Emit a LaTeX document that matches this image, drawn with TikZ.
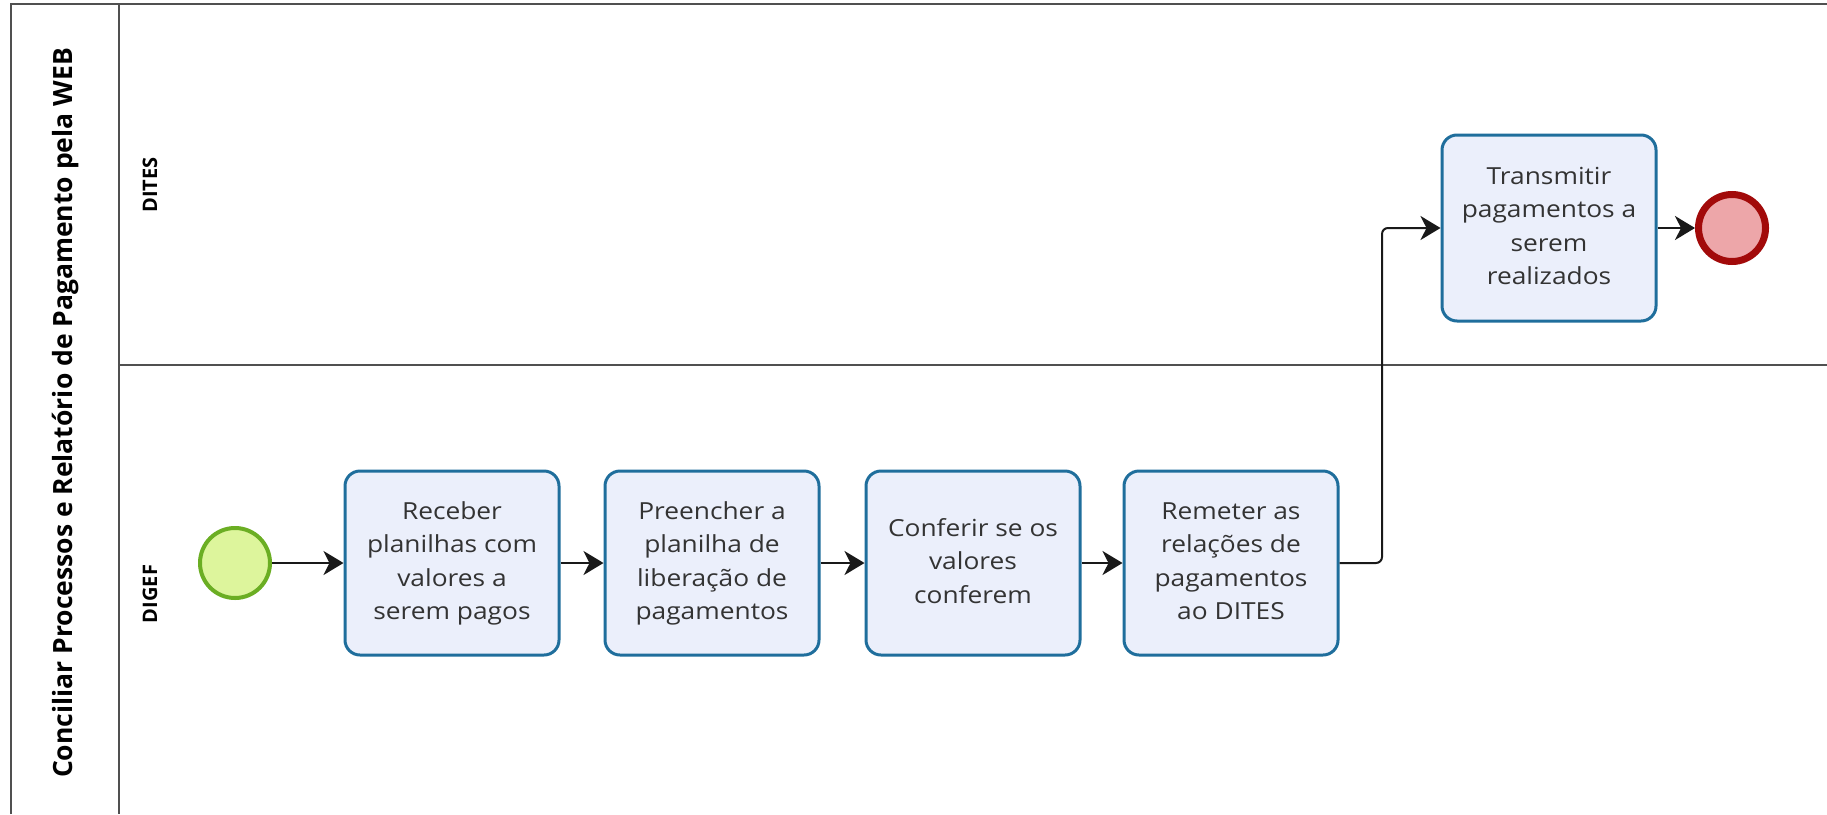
\documentclass[tikz,border=0pt]{standalone}
\usepackage{fontspec}
\usepackage{graphicx}
\setmainfont{Open Sans}
\usetikzlibrary{arrows.meta}
\definecolor{taskfill}{HTML}{EBEFFB}
\definecolor{taskdraw}{HTML}{1F6E9C}
\definecolor{startfill}{HTML}{DDF59C}
\definecolor{startdraw}{HTML}{6BAE23}
\definecolor{endfill}{HTML}{EDA6A9}
\definecolor{enddraw}{HTML}{A20A0A}
\definecolor{laneline}{HTML}{505050}
\newcommand\tasktext[1]{\scalebox{1.12}[1]{\begin{tabular}{@{}c@{}}#1\end{tabular}}}
\tikzset{
  task/.style={draw=taskdraw, fill=taskfill, line width=3pt, rounded corners=15pt,
    minimum width=214pt, minimum height=184pt, align=center, inner sep=0pt,
    font=\fontsize{23.5}{33.5}\selectfont, text=black!80},
  startev/.style={circle, draw=startdraw, fill=startfill, line width=4pt, minimum size=70pt, inner sep=0pt},
  endev/.style={circle, draw=enddraw, fill=endfill, line width=7pt, minimum size=67pt, inner sep=0pt},
  flow/.style={draw=black!90, line width=2pt, -{Stealth[length=20pt,width=24pt,inset=6pt]}, rounded corners=6pt},
  pool/.style={draw=laneline, line width=2pt},
  lanelabel/.style={rotate=90, font=\bfseries\fontsize{20}{22}\selectfont},
}
\begin{document}
\begin{tikzpicture}[x=1pt,y=-1pt]
\useasboundingbox (0,0) rectangle (1827,814);
\fill[white] (0,0) rectangle (1827,814);
% pool frame
\draw[pool] (11,814) -- (11,4) -- (1827,4);
\draw[pool] (119,4) -- (119,814);
\draw[pool] (119,365) -- (1827,365);
% labels
\node[rotate=90, font=\bfseries\fontsize{26.5}{30}\selectfont] (title) at (66,413) {Conciliar Processos e Relatório de Pagamento pela WEB};
\node[lanelabel] (dites) at (150,185) {DITES};
\node[lanelabel] (digef) at (150,594) {DIGEF};
% events and tasks
\node[startev] (start) at (235,563) {};
\node[task] (t1) at (452,563) {\tasktext{Receber\\planilhas com\\valores a\\serem pagos}};
\node[task] (t2) at (712,563) {\tasktext{Preencher a\\planilha de\\liberação de\\pagamentos}};
\node[task] (t3) at (973,563) {\tasktext{Conferir se os\\valores\\conferem}};
\node[task] (t4) at (1231,563) {\tasktext{Remeter as\\relações de\\pagamentos\\ao DITES}};
\node[task, minimum height=186pt] (t5) at (1549,228) {\tasktext{Transmitir\\pagamentos a\\serem\\realizados}};
\node[endev] (end) at (1732,228) {};
\coordinate (bend) at (1382,563);
% flows
\draw[flow] (start) -- (t1);
\draw[flow] (t1) -- (t2);
\draw[flow] (t2) -- (t3);
\draw[flow] (t3) -- (t4);
\draw[flow] (t4.east) -- (bend) |- (t5.west);
\draw[flow] (t5) -- (end);
\end{tikzpicture}
\end{document}
